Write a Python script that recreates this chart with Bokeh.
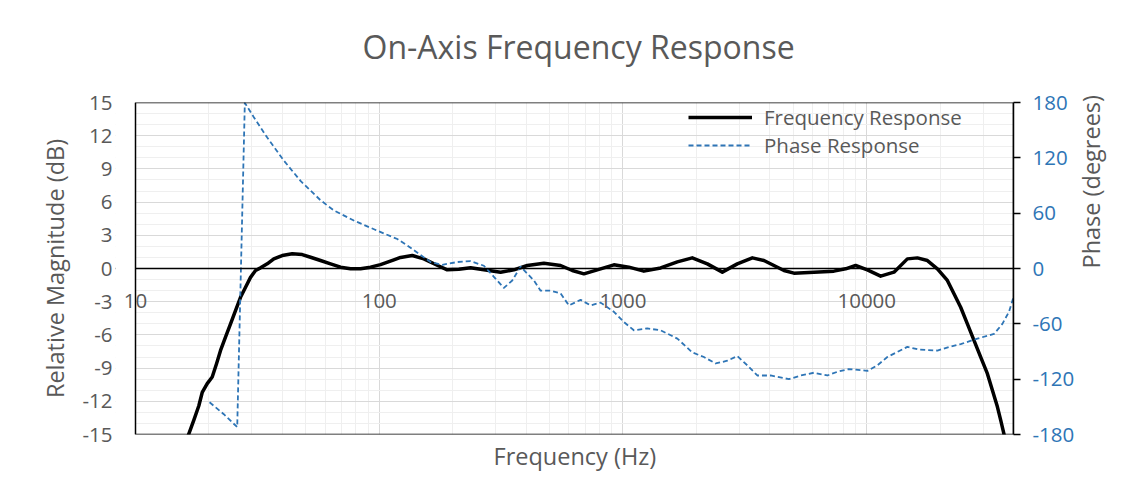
import math
from bokeh.plotting import figure
from bokeh.models import (Range1d, LinearAxis, FixedTicker, Span, LabelSet, BoxAnnotation,
                          ColumnDataSource, Legend, LegendItem, Title)
from bokeh.core.properties import value
from bokeh.embed import file_html
from bokeh.resources import INLINE

# ---------------- data ----------------
freq_hz = [16.45, 17.35, 18.19, 18.78, 19.69, 20.64, 21.5, 22.33, 23.4, 24.54, 25.72,
           26.97, 28.28, 29.64, 31.08, 32.58, 34.71, 36.94, 40.0, 43.95, 48.31, 52.26,
           57.42, 63.13, 69.37, 76.24, 83.8, 92.1, 101.2, 114.8, 122.3, 136.6, 152.4,
           170.2, 190.1, 212.1, 236.9, 268.7, 314.6, 356.7, 404.9, 473.6, 554.6,
           619.3, 691.2, 784.4, 917.6, 1057, 1218, 1427, 1671, 1924, 2218, 2556,
           2944, 3394, 3786, 4161, 4575, 5027, 6072, 7335, 8193, 9005, 10058,
           11403, 12931, 14679, 16133, 17740, 19491, 21418, 22797, 24287, 25874,
           27542, 29345, 31257, 32770, 34355, 35440, 36810]
magnitude_db = [-15.1, -13.7, -12.4, -11.2, -10.4, -9.8, -8.6, -7.4, -6.2, -5.0, -3.8,
                -2.6, -1.7, -0.8, -0.18, 0.06, 0.42, 0.88, 1.17, 1.33, 1.26, 1.02,
                0.72, 0.42, 0.12, -0.03, -0.03, 0.12, 0.35, 0.78, 1.0, 1.17, 0.87,
                0.36, -0.12, -0.06, 0.06, -0.12, -0.33, -0.12, 0.27, 0.48, 0.27,
                -0.18, -0.48, -0.12, 0.33, 0.12, -0.24, 0.05, 0.6, 0.96, 0.42, -0.33,
                0.42, 0.96, 0.72, 0.27, -0.18, -0.42, -0.33, -0.24, -0.03, 0.27, -0.12,
                -0.69, -0.33, 0.87, 0.96, 0.72, -0.03, -1.08, -2.29, -3.5, -5.0,
                -6.5, -8.0, -9.5, -11.0, -12.5, -13.7, -15.24]

phase_freq_hz = [20.13, 23.03, 26.14, 28.09, 30.58, 34.71, 40.6, 47.54, 57.42, 65.13,
                 78.66, 98.1, 118.6, 130.3, 162.3, 181.3, 209, 236.9, 268.7, 295.3,
                 324.6, 351.3, 380, 430.9, 459.1, 504.6, 554.6, 599.8, 669.9, 736.2,
                 809.4, 917.6, 1008, 1108, 1258, 1427, 1671, 1924, 2147, 2399, 2679,
                 2944, 3236, 3557, 4034, 4796, 5356, 6072, 6891, 7574, 8453, 10058,
                 11052, 12149, 14679, 16380, 19491, 21758, 24287, 28442, 33270,
                 36020, 38330, 40000]
phase_deg = [-145, -158, -172, 179.6, 164, 142, 117, 95, 74, 63,
             52, 41, 32, 25, 7, 4, 7, 8, 3, -9,
             -21, -13, 2, -13, -24, -24, -27, -40, -34, -40,
             -37, -47, -58, -67, -65, -67, -76, -91, -96, -103, -100,
             -95, -105, -116, -116, -120, -116, -113, -116, -112, -109, -111,
             -105, -96, -85, -88, -89, -85, -82, -76, -71,
             -60, -47, -31]

x_tick_values = [10, 100, 1000, 10000]
x_tick_labels = ["10", "100", "1000", "10000"]
db_ticks = [-15, -12, -9, -6, -3, 0, 3, 6, 9, 12, 15]
phase_ticks = [-180, -120, -60, 0, 60, 120, 180]

X_MIN, X_MAX = 10, 40000
Y_MIN, Y_MAX = -15, 15

GREY = "#595959"
BLUE = "#2e75b6"
FONT = "Open Sans"
TICK_FS = "20.5px"
LABEL_FS = "23.5px"

# the frame is widened 20px to the left of the plot area so that the "10"
# label (drawn at the zero line) is not clipped; that strip is masked white
STRIP = 20
PX_PER_DECADE = 878 / math.log10(X_MAX / X_MIN)
x_lo = 10 ** (math.log10(X_MIN) - STRIP / PX_PER_DECADE)

p = figure(width=1134, height=493, x_axis_type="log",
           x_range=Range1d(x_lo, X_MAX), y_range=Range1d(Y_MIN, Y_MAX),
           output_backend="svg", toolbar_location=None,
           min_border_left=135 - STRIP, min_border_right=121,
           min_border_top=102, min_border_bottom=59)
p.extra_y_ranges = {"phase": Range1d(-180, 180)}

p.background_fill_color = "white"
p.border_fill_color = "white"
p.outline_line_color = None

# title (left aligned + offset to sit over the plot area centre)
p.title.text = "On-Axis Frequency Response"
p.title.align = "left"
p.title.offset = 362 - (135 - STRIP)
p.title.text_font = FONT
p.title.text_font_size = "32px"
p.title.text_font_style = "normal"
p.title.text_color = GREY
p.title.standoff = 40
p.add_layout(Title(text=" ", text_font_size="2px", standoff=11), "above")

# grids
minor_x = [m * d for d in x_tick_values for m in range(2, 10)]
p.xgrid.ticker = FixedTicker(ticks=x_tick_values, minor_ticks=minor_x)
p.xgrid.grid_line_color = "#d9d9d9"
p.xgrid.minor_grid_line_color = "#efefef"
p.ygrid.ticker = FixedTicker(ticks=db_ticks, minor_ticks=list(range(-15, 16)))
p.ygrid.grid_line_color = "#d9d9d9"
p.ygrid.minor_grid_line_color = "#efefef"

# bottom axis: no ticks; its title is a below-Title so it can be centred on the plot area
xa = p.xaxis[0]
xa.ticker = FixedTicker(ticks=[])
xa.major_tick_out = 0
xa.major_tick_in = 0
xa.minor_tick_out = 0
xa.minor_tick_in = 0
xa.major_label_standoff = 0
xa.axis_line_color = None
p.add_layout(Title(text="Frequency (Hz)", align="left", offset=493 - (135 - STRIP),
                   text_font=FONT, text_font_size=LABEL_FS, text_font_style="normal",
                   text_color=GREY, standoff=6), "below")

# left axis
ya = p.yaxis[0]
ya.ticker = FixedTicker(ticks=db_ticks)
ya.major_label_overrides = {v: str(v) for v in db_ticks}
ya.axis_label = "Relative Magnitude (dB)"
ya.axis_label_text_font = FONT
ya.axis_label_text_font_size = LABEL_FS
ya.axis_label_text_font_style = "normal"
ya.axis_label_text_color = GREY
ya.axis_label_standoff = 8
ya.major_label_text_font = FONT
ya.major_label_text_font_size = TICK_FS
ya.major_label_text_color = GREY
ya.major_label_standoff = 23 - STRIP
ya.major_tick_out = 0
ya.major_tick_in = 0
ya.minor_tick_out = 0
ya.minor_tick_in = 0
ya.axis_line_color = None

# right axis
ra = LinearAxis(y_range_name="phase", ticker=FixedTicker(ticks=phase_ticks))
ra.major_label_overrides = {v: str(v) for v in phase_ticks}
ra.axis_label = "Phase (degrees)"
ra.axis_label_text_font = FONT
ra.axis_label_text_font_size = LABEL_FS
ra.axis_label_text_font_style = "normal"
ra.axis_label_text_color = GREY
ra.axis_label_standoff = 14
ra.major_label_text_font = FONT
ra.major_label_text_font_size = TICK_FS
ra.major_label_text_color = BLUE
ra.major_label_standoff = 12
ra.major_tick_out = 7
ra.major_tick_in = 0
ra.major_tick_line_color = "black"
ra.major_tick_line_width = 1.5
ra.minor_tick_out = 0
ra.minor_tick_in = 0
ra.axis_line_color = "black"
ra.axis_line_width = 1.5
if "axis_label_orientation" in ra.properties():
    ra.axis_label_orientation = math.pi / 2
p.add_layout(ra, "right")

# zero line (Excel horizontal axis crossing at 0)
p.add_layout(Span(location=0, dimension="width", line_color="black", line_width=1.5))

# white mask over the strip left of the plot area, then the plot-area border
p.add_layout(BoxAnnotation(right=X_MIN, fill_color="white", fill_alpha=1.0,
                           line_color=None))
p.add_layout(BoxAnnotation(left=X_MIN, right=X_MAX, bottom=Y_MIN, top=Y_MAX,
                           fill_alpha=0, line_color="black", line_alpha=1.0,
                           line_width=1.5))

# x tick labels at the zero line
lbl_src = ColumnDataSource(dict(x=x_tick_values, y=[0] * len(x_tick_values), text=x_tick_labels))
p.add_layout(LabelSet(x="x", y="y", text="text", source=lbl_src,
                      text_align="center", text_baseline="middle", y_offset=-32,
                      text_font=value(FONT), text_font_size=value(TICK_FS),
                      text_color=GREY))

# series
r_mag = p.line(freq_hz, magnitude_db, line_color="black", line_width=3.5,
               line_join="round")
r_phase = p.line(phase_freq_hz, phase_deg, y_range_name="phase", line_color=BLUE,
                 line_width=1.8, line_dash="5 3", line_join="round")

legend = Legend(items=[LegendItem(label="Frequency Response", renderers=[r_mag]),
                       LegendItem(label="Phase Response", renderers=[r_phase])],
                location=(688 - (135 - STRIP), 275))
legend.background_fill_alpha = 0
legend.border_line_color = None
legend.glyph_width = 64
legend.glyph_height = 28
legend.label_height = 28
legend.spacing = 0
legend.padding = 0
legend.margin = 0
legend.label_standoff = 12
legend.label_text_font = FONT
legend.label_text_font_size = TICK_FS
legend.label_text_color = GREY
p.add_layout(legend, "center")

open("out.html", "w").write(file_html(p, INLINE))
